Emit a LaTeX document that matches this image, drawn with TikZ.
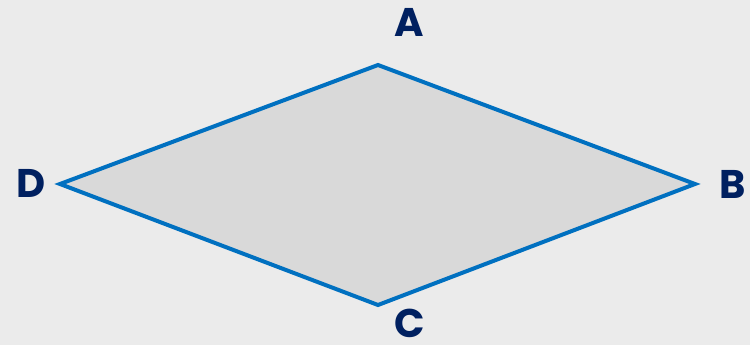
\documentclass[tikz,border=0pt]{standalone}
\usepackage{fontspec}
\setmainfont{Poppins}
\usetikzlibrary{positioning}
\definecolor{bgray}{HTML}{EBEBEB}
\definecolor{rfill}{HTML}{D9D9D9}
\definecolor{rline}{HTML}{0070C0}
\definecolor{navy}{HTML}{002060}
\tikzset{
  side/.style={draw=rline,line width=4pt,line join=miter,fill=rfill},
  vlbl/.style={font=\fontsize{40}{40}\selectfont\bfseries,text=navy,inner sep=0pt},
}
\begin{document}
\begin{tikzpicture}[x=1pt,y=-1pt]
  \fill[bgray] (0,0) rectangle (750,345);
  \useasboundingbox (0,0) rectangle (750,345);
  % vertices of the rhombus
  \coordinate (A) at (378,65);
  \coordinate (B) at (695,184);
  \coordinate (C) at (378,305);
  \coordinate (D) at (60,184);
  \draw[side] (A) -- (B) -- (C) -- (D) -- cycle;
  % labels
  \node[vlbl] (la) at (409,22) {A};
  \node[vlbl] (lb) at (733,184) {B};
  \node[vlbl] (lc) at (410,323) {C};
  \node[vlbl] (ld) at (31,183) {D};
\end{tikzpicture}
\end{document}
